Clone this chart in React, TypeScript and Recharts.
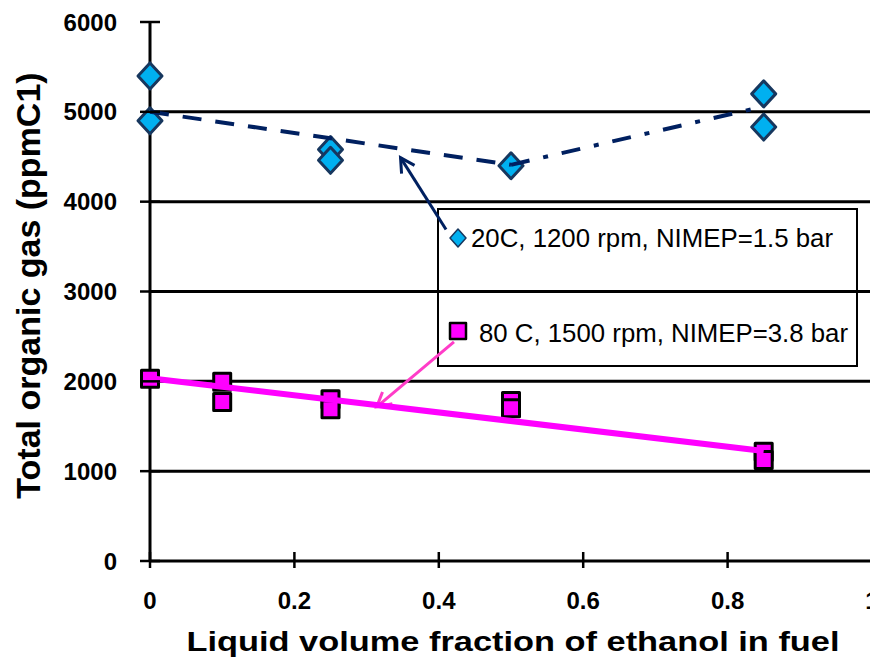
import React from "react";
import { ComposedChart, Scatter, XAxis, YAxis, ReferenceLine } from "recharts";

// axis ticks
const ethanolTicks = [0, 0.2, 0.4, 0.6, 0.8, 1];
const gasTicks = [0, 1000, 2000, 3000, 4000, 5000, 6000];
const gridValues = [1000, 2000, 3000, 4000, 5000];

// 20C, 1200 rpm, NIMEP=1.5 bar
const coldFraction = [0, 0, 0.25, 0.25, 0.5, 0.85, 0.85];
const coldGas = [5400, 4900, 4580, 4460, 4400, 5200, 4830];

// 80 C, 1500 rpm, NIMEP=3.8 bar
const warmFraction = [0, 0.1, 0.1, 0.25, 0.25, 0.5, 0.5, 0.85, 0.85];
const warmGas = [2030, 1995, 1770, 1800, 1690, 1780, 1700, 1215, 1125];

// trend lines
const coldDashFraction = [0, 0.5];
const coldDashGas = [5000, 4410];
const coldDashDotFraction = [0.5, 0.85];
const coldDashDotGas = [4410, 5060];
const warmTrendFraction = [0, 0.85];
const warmTrendGas = [2035, 1225];

// callout arrows, tail first then tip
const coldArrowFraction = [0.41, 0.347];
const coldArrowGas = [3690, 4490];
const warmArrowFraction = [0.421, 0.314];
const warmArrowGas = [2440, 1716];

const legendLabels = [
  "20C, 1200 rpm, NIMEP=1.5 bar",
  "80 C, 1500 rpm, NIMEP=3.8 bar",
];

const zip = (xs: number[], ys: number[]) => xs.map((x, i) => ({ x, y: ys[i] }));

const FONT = "Arial, 'Liberation Sans', sans-serif";
const NAVY = "#002060";
const DIAMOND_FILL = "#00B0F0";
const DIAMOND_EDGE = "#17375E";
const MAGENTA = "#FF00FF";
const PINK_ARROW = "#FF3CC8";

const tickStyle = { fontFamily: FONT, fontWeight: 700, fontSize: 24, fill: "#000" };

const XTick = (p: any) => (
  <g>
    <line x1={p.x} x2={p.x} y1={p.y - 9} y2={p.y + 7} stroke="#000" strokeWidth={2.5} />
    <text x={p.x} y={p.y + 48} textAnchor="middle" style={tickStyle}>
      {p.payload.value}
    </text>
  </g>
);

const YTick = (p: any) => (
  <g>
    <line x1={p.x - 10} x2={p.x + 10} y1={p.y} y2={p.y} stroke="#000" strokeWidth={2.5} />
    <text x={p.x - 33} y={p.y + 8.5} textAnchor="end" style={tickStyle}>
      {p.payload.value}
    </text>
  </g>
);

const Diamond = ({ cx, cy, r = 12, w = 3 }: any) => (
  <polygon
    points={`${cx},${cy - r - 1} ${cx + r},${cy} ${cx},${cy + r + 1} ${cx - r},${cy}`}
    fill={DIAMOND_FILL}
    stroke={DIAMOND_EDGE}
    strokeWidth={w}
    strokeLinejoin="round"
  />
);

const Square = ({ cx, cy, s = 17, w = 3 }: any) => (
  <rect
    x={cx - s / 2}
    y={cy - s / 2}
    width={s}
    height={s}
    fill={MAGENTA}
    stroke="#000"
    strokeWidth={w}
    strokeLinejoin="round"
  />
);

const noMarker = () => <g />;

// line with an open arrowhead at (x2, y2)
const arrowShape = (color: string) => (p: any) => {
  const { x1, y1, x2, y2 } = p;
  const a = Math.atan2(y2 - y1, x2 - x1);
  const len = 16;
  const spread = 0.5;
  const ax = x2 - len * Math.cos(a - spread);
  const ay = y2 - len * Math.sin(a - spread);
  const bx = x2 - len * Math.cos(a + spread);
  const by = y2 - len * Math.sin(a + spread);
  return (
    <g>
      <line x1={x1} y1={y1} x2={x2} y2={y2} stroke={color} strokeWidth={3} />
      <polyline
        points={`${ax},${ay} ${x2},${y2} ${bx},${by}`}
        fill="none"
        stroke={color}
        strokeWidth={3}
        strokeLinejoin="miter"
      />
    </g>
  );
};

const LegendBox = () => (
  <g>
    <rect x={438} y={209} width={419} height={157} fill="#fff" stroke="#000" strokeWidth={2} />
    <Diamond cx={458} cy={238} r={8} w={1.5} />
    <text
      x={471}
      y={247}
      textLength={362}
      lengthAdjust="spacingAndGlyphs"
      style={{ fontFamily: FONT, fontSize: 25, fill: "#000" }}
    >
      {legendLabels[0]}
    </text>
    <Square cx={458} cy={331} s={16} w={2.5} />
    <text
      x={479}
      y={342}
      textLength={369}
      lengthAdjust="spacingAndGlyphs"
      style={{ fontFamily: FONT, fontSize: 25, fill: "#000" }}
    >
      {legendLabels[1]}
    </text>
  </g>
);

export default function App() {
  return (
    <div style={{ position: "absolute", left: 0, top: 0, width: 870, height: 661, overflow: "hidden", background: "#fff" }}>
      <ComposedChart width={880} height={661} margin={{ top: 22, right: 8, bottom: 0, left: 0 }}>
        <XAxis
          type="number"
          dataKey="x"
          domain={[0, 1]}
          ticks={ethanolTicks}
          interval={0}
          height={100}
          axisLine={{ stroke: "#000", strokeWidth: 3 }}
          tickLine={false}
          tickSize={0}
          tickMargin={0}
          tick={<XTick />}
          label={(p: any) => (
            <text
              x={p.viewBox.x + p.viewBox.width / 2 + 2}
              y={p.viewBox.y + 90}
              textAnchor="middle"
              textLength={653}
              lengthAdjust="spacingAndGlyphs"
              style={{ fontFamily: FONT, fontWeight: 700, fontSize: 27, fill: "#000" }}
            >
              Liquid volume fraction of ethanol in fuel
            </text>
          )}
        />
        <YAxis
          type="number"
          dataKey="y"
          domain={[0, 6000]}
          ticks={gasTicks}
          interval={0}
          width={150}
          axisLine={{ stroke: "#000", strokeWidth: 3 }}
          tickLine={false}
          tickSize={0}
          tickMargin={0}
          tick={<YTick />}
          label={(p: any) => (
            <text
              transform={`translate(40, ${p.viewBox.y + p.viewBox.height / 2 - 6}) rotate(-90)`}
              textAnchor="middle"
              style={{ fontFamily: FONT, fontWeight: 700, fontSize: 34, fill: "#000" }}
            >
              Total organic gas (ppmC1)
            </text>
          )}
        />
        {gridValues.map((v) => (
          <ReferenceLine key={v} y={v} stroke="#000" strokeWidth={3} />
        ))}

        <Scatter
          name={legendLabels[0]}
          data={zip(coldFraction, coldGas)}
          fill={DIAMOND_FILL}
          shape={(p: any) => <Diamond cx={p.cx} cy={p.cy} />}
          isAnimationActive={false}
        />
        <Scatter
          name={legendLabels[1]}
          data={zip(warmFraction, warmGas)}
          fill={MAGENTA}
          shape={(p: any) => <Square cx={p.cx} cy={p.cy} />}
          isAnimationActive={false}
        />

        <Scatter
          data={zip(coldDashFraction, coldDashGas)}
          line={{ stroke: NAVY, strokeWidth: 4, strokeDasharray: "19 14" }}
          shape={noMarker}
          isAnimationActive={false}
        />
        <Scatter
          data={zip(coldDashDotFraction, coldDashDotGas)}
          line={{ stroke: NAVY, strokeWidth: 4, strokeDasharray: "19 14 5 14" }}
          shape={noMarker}
          isAnimationActive={false}
        />
        <Scatter
          data={zip(warmTrendFraction, warmTrendGas)}
          line={{ stroke: MAGENTA, strokeWidth: 6 }}
          shape={noMarker}
          isAnimationActive={false}
        />

        <LegendBox />

        <ReferenceLine
          segment={zip(coldArrowFraction, coldArrowGas)}
          shape={arrowShape(NAVY)}
        />
        <ReferenceLine
          segment={zip(warmArrowFraction, warmArrowGas)}
          shape={arrowShape(PINK_ARROW)}
        />
      </ComposedChart>
    </div>
  );
}
